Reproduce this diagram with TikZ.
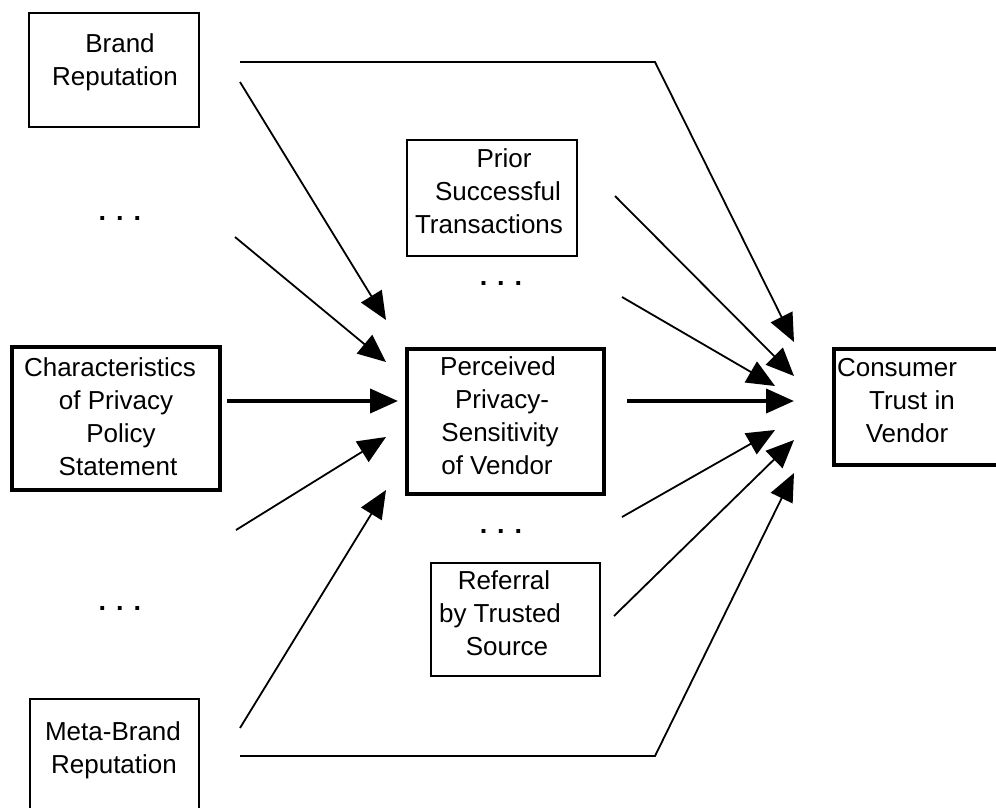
\documentclass[tikz,border=0pt]{standalone}
\usepackage{fontspec}
\setmainfont{Liberation Sans}
\usetikzlibrary{arrows.meta}
\begin{document}
\begin{tikzpicture}[x=1pt, y=-1pt,
  thinbox/.style={draw, line width=2pt, inner sep=0pt, anchor=north west},
  thickbox/.style={draw, line width=4pt, inner sep=0pt, anchor=north west},
  txt/.style={anchor=base, inner sep=0pt, font=\fontsize{26}{33}\selectfont},
  dots/.style={anchor=base, inner sep=0pt, font=\fontsize{27}{33}\selectfont\bfseries},
  thinarrow/.style={line width=1.8pt, -{Triangle[length=28pt, width=24pt]}},
  thickarrow/.style={line width=4pt, -{Triangle[length=28pt, width=24pt]}},
]
\useasboundingbox (0,0) rectangle (996,807);
\clip (0,0) rectangle (996,807);
\fill[white] (0,0) rectangle (996,807);

% boxes
\node[thinbox, minimum width=170pt, minimum height=114pt] (brand) at (28,12) {};
\node[thinbox, minimum width=170pt, minimum height=116pt] (prior) at (406,139) {};
\node[thickbox, minimum width=208pt, minimum height=143pt] (char) at (10,345) {};
\node[thickbox, minimum width=197pt, minimum height=145pt] (perc) at (405,347) {};
\node[thickbox, minimum width=180pt, minimum height=116pt] (cons) at (832,347) {};
\node[thinbox, minimum width=169pt, minimum height=113pt] (refer) at (430,562) {};
\node[thinbox, minimum width=169pt, minimum height=130pt] (meta) at (29,698) {};

% box texts, one node per line
\node[txt] (brandA) at (120,52) {Brand};
\node[txt] (brandB) at (115,85) {Reputation};
\node[txt] (priorA) at (504,167) {Prior};
\node[txt] (priorB) at (498,200) {Successful};
\node[txt] (priorC) at (489,233) {Transactions};
\node[txt] (charA) at (110,376) {Characteristics};
\node[txt] (charB) at (116,409) {of Privacy};
\node[txt] (charC) at (121,442) {Policy};
\node[txt] (charD) at (118,475) {Statement};
\node[txt] (percA) at (498,375) {Perceived};
\node[txt] (percB) at (502,408) {Privacy-};
\node[txt] (percC) at (500,441) {Sensitivity};
\node[txt] (percD) at (497,474) {of Vendor};
\node[txt] (consA) at (897,376) {Consumer};
\node[txt] (consB) at (912,409) {Trust in};
\node[txt] (consC) at (907,442) {Vendor};
\node[txt] (referA) at (504,589) {Referral};
\node[txt] (referB) at (500,622) {by Trusted};
\node[txt] (referC) at (507,655) {Source};
\node[txt] (metaA) at (113,740) {Meta-Brand};
\node[txt] (metaB) at (114,773) {Reputation};

% ellipses standing for further factors
\node[dots] (dotsUL) at (120,220) {. . .};
\node[dots] (dotsUM) at (501,285) {. . .};
\node[dots] (dotsLM) at (501,533) {. . .};
\node[dots] (dotsLL) at (120,610) {. . .};

% connector end points
\coordinate (brandTop) at (240,62);
\coordinate (brandBend) at (655,62);
\coordinate (brandDiag) at (240,82);
\coordinate (ulStart) at (235,237);
\coordinate (charStart) at (227,401);
\coordinate (llStart) at (236,530);
\coordinate (metaDiag) at (240,728);
\coordinate (metaBot) at (240,756);
\coordinate (metaBend) at (655,756);
\coordinate (priorStart) at (615,196);
\coordinate (umStart) at (622,297);
\coordinate (percStart) at (627,401);
\coordinate (lmStart) at (622,517);
\coordinate (referStart) at (614,616);

\coordinate (pIn1) at (386,320);
\coordinate (pIn2) at (386,362);
\coordinate (pIn3) at (398,401);
\coordinate (pIn4) at (386,437);
\coordinate (pIn5) at (386,490);

\coordinate (cIn1) at (794,342);
\coordinate (cIn2) at (794,376);
\coordinate (cIn3) at (775,386);
\coordinate (cIn4) at (794,401);
\coordinate (cIn5) at (775,430);
\coordinate (cIn6) at (794,440);
\coordinate (cIn7) at (794,473);

% arrows into the perceived privacy-sensitivity
\draw[thinarrow] (brandDiag) -- (pIn1);
\draw[thinarrow] (ulStart) -- (pIn2);
\draw[thickarrow] (charStart) -- (pIn3);
\draw[thinarrow] (llStart) -- (pIn4);
\draw[thinarrow] (metaDiag) -- (pIn5);

% arrows into consumer trust
\draw[thinarrow] (brandTop) -- (brandBend) -- (cIn1);
\draw[thinarrow] (priorStart) -- (cIn2);
\draw[thinarrow] (umStart) -- (cIn3);
\draw[thickarrow] (percStart) -- (cIn4);
\draw[thinarrow] (lmStart) -- (cIn5);
\draw[thinarrow] (referStart) -- (cIn6);
\draw[thinarrow] (metaBot) -- (metaBend) -- (cIn7);
\end{tikzpicture}
\end{document}
